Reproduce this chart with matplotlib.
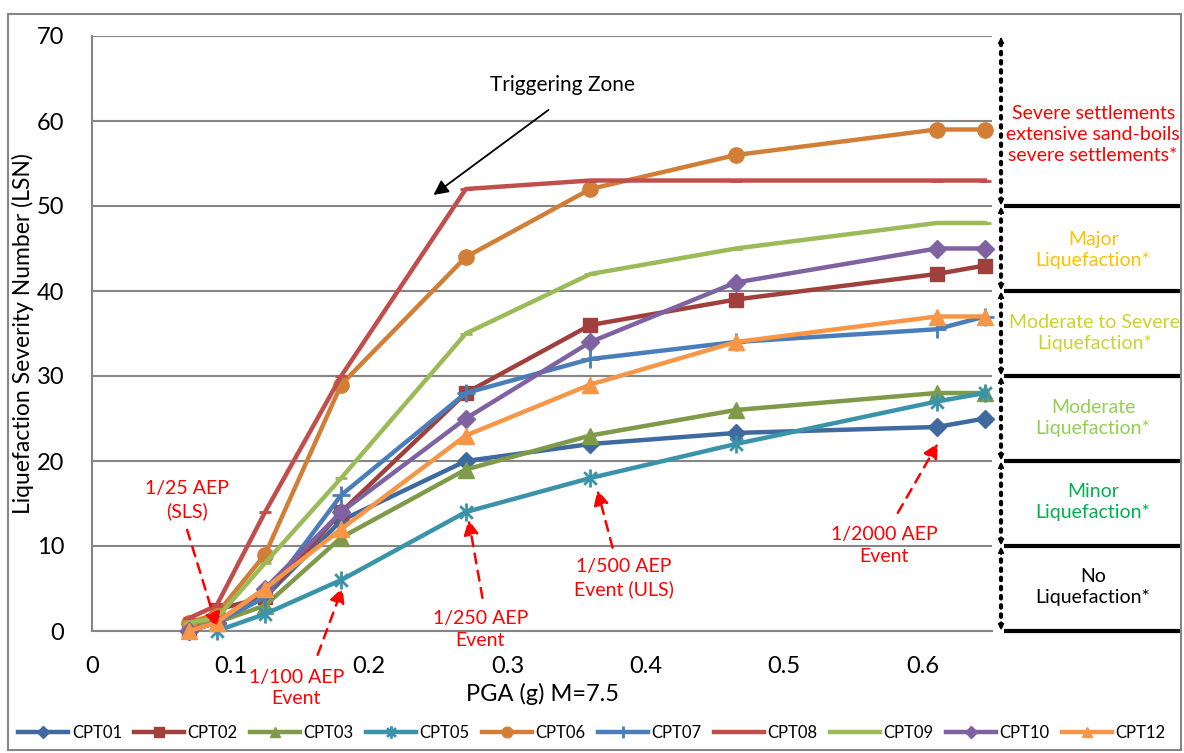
import numpy as np
import matplotlib
matplotlib.use("Agg")
import matplotlib.pyplot as plt
from matplotlib.patches import Rectangle
from matplotlib.path import Path

plt.rcParams['font.family'] = ['Lato', 'DejaVu Sans']

# ---------------- data ----------------
pga = [0.07, 0.09, 0.125, 0.18, 0.27, 0.36, 0.465, 0.61, 0.645]
cpt01 = [0, 1, 4, 13, 20, 22, 23.3, 24, 25]
cpt02 = [0, 2.5, 4, 14, 28, 36, 39, 42, 43]
cpt03 = [1, 1, 3, 11, 19, 23, 26, 28, 28]
cpt05 = [np.nan, 0, 2, 6, 14, 18, 22, 27, 28]
cpt06 = [1, 2, 9, 29, 44, 52, 56, 59, 59]
cpt07 = [0, 1, 4, 16, 28, 32, 34, 35.5, 37]
cpt08 = [1.5, 3, 14, 30, 52, 53, 53, 53, 53]
cpt09 = [1, 1.5, 8, 18, 35, 42, 45, 48, 48]
cpt10 = [0, 1, 5, 14, 25, 34, 41, 45, 45]
cpt12 = [0, 1, 5, 12, 23, 29, 34, 37, 37]

series_names = ["CPT01", "CPT02", "CPT03", "CPT05", "CPT06",
                "CPT07", "CPT08", "CPT09", "CPT10", "CPT12"]
series_values = [cpt01, cpt02, cpt03, cpt05, cpt06,
                 cpt07, cpt08, cpt09, cpt10, cpt12]
series_colors = ["#3F6AA0", "#A0403C", "#7F9A48", "#3A93A8", "#D27E36",
                 "#4A7EBB", "#C24E4B", "#9BBB59", "#7E62A1", "#F79646"]

# Excel-style "star" marker: an x plus a vertical stroke
star = Path([(0, -1), (0, 1), (-0.7, -0.7), (0.7, 0.7), (-0.7, 0.7), (0.7, -0.7)],
            [Path.MOVETO, Path.LINETO, Path.MOVETO, Path.LINETO, Path.MOVETO, Path.LINETO])
series_markers = ["D", "s", "^", star, "o", "+", "_", "_", "D", "^"]
series_msize = [9, 10, 11, 13, 11, 13, 9, 9, 9, 11]

x_ticks = [0, 0.1, 0.2, 0.3, 0.4, 0.5, 0.6]
x_tick_labels = ["0", "0.1", "0.2", "0.3", "0.4", "0.5", "0.6"]
y_ticks = [0, 10, 20, 30, 40, 50, 60, 70]

zone_levels = [0, 10, 20, 30, 40, 50, 70]
zone_labels = ["No\nLiquefaction*", "Minor\nLiquefaction*", "Moderate\nLiquefaction*",
               "Moderate to Severe\nLiquefaction*", "Major\nLiquefaction*",
               "Severe settlements\nextensive sand-boils\nsevere settlements*"]
zone_colors = ["black", "#00B050", "#92D050", "#CCD22E", "#FFC000", "#FF0000"]
zone_label_y = [5.2, 15.2, 25.1, 35.1, 44.8, 58.4]

event_labels = ["1/25 AEP\n(SLS)", "1/100 AEP\nEvent", "1/250 AEP\nEvent",
                "1/500 AEP\nEvent (ULS)", "1/2000 AEP\nEvent"]
event_text_xy = [(0.0687, 15.4), (0.1475, -6.7), (0.2805, 0.2), (0.384, 6.2), (0.572, 10.1)]
event_tail = [(0.0687, 11.9), (0.163, -2.8), (0.282, 3.9), (0.376, 9.8), (0.582, 13.9)]
event_head = [(0.0904, 0.4), (0.181, 5.1), (0.272, 13.1), (0.365, 16.6), (0.611, 22.1)]

# ---------------- figure ----------------
W, H = 1184, 753
fig = plt.figure(figsize=(W / 100, H / 100), dpi=100)
ax = fig.add_axes([92 / W, 1 - 631 / H, 900 / W, 595 / H])

for name, vals, c, m, ms in zip(series_names, series_values, series_colors,
                                series_markers, series_msize):
    mew = 1 if isinstance(m, str) and m in ("D", "s", "^", "o") else 2
    ax.plot(pga, vals, color=c, lw=3.2, marker=m, markersize=ms,
            markeredgecolor=c, markerfacecolor=c, markeredgewidth=mew,
            label=name, clip_on=False, zorder=3)

ax.set_xlim(0, 0.65)
ax.set_ylim(0, 70)
ax.set_xticks(x_ticks)
ax.set_xticklabels(x_tick_labels)
ax.set_yticks(y_ticks)
ax.tick_params(axis='both', length=0, labelsize=17)
ax.tick_params(axis='y', pad=20)
ax.tick_params(axis='x', pad=18)
ax.grid(axis='y', color='#868686', lw=1.5, zorder=0)
ax.set_axisbelow(True)
for s in ['top', 'right']:
    ax.spines[s].set_visible(False)
for s in ['left', 'bottom']:
    ax.spines[s].set_color('#868686')
    ax.spines[s].set_linewidth(1.5)

ax.set_xlabel("PGA (g) M=7.5", fontsize=17, labelpad=4)
ax.set_ylabel("Liquefaction Severity Number (LSN)", fontsize=16.5)
ax.yaxis.set_label_coords((34 - 92) / 900, 0.5)

# Triggering zone
ax.text(0.34, 64.2, "Triggering Zone", fontsize=15, ha='center', va='center')
ax.annotate("", xy=(0.2466, 51.3), xytext=(0.3297, 61.3),
            arrowprops=dict(arrowstyle='-|>', color='black', lw=1.3,
                            mutation_scale=22, shrinkA=0, shrinkB=0))

# Event arrows
for lab, txy, tail, head in zip(event_labels, event_text_xy, event_tail, event_head):
    ax.text(txy[0], txy[1], lab, color='#FF0000', fontsize=14, ha='center',
            va='center', linespacing=1.35, clip_on=False)
    ax.annotate("", xy=head, xytext=tail, annotation_clip=False,
                arrowprops=dict(arrowstyle='-|>', color='#FF0000', lw=1.8,
                                linestyle=(0, (4, 3)), mutation_scale=22,
                                shrinkA=0, shrinkB=0))

# Zone markers on right
xv = (1000 - 92) / 1383.0
xl0 = (1003 - 92) / 1383.0
xl1 = (1180 - 92) / 1383.0
for lev in zone_levels[:-1]:
    ax.plot([xl0, xl1], [lev, lev], color='black', lw=3, clip_on=False,
            solid_capstyle='butt', zorder=4)
for lo, hi in zip(zone_levels[:-1], zone_levels[1:]):
    ax.plot([xv, xv], [lo + 0.6, hi - 0.6], color='black', lw=3,
            linestyle=(0, (0.6, 1.6)), dash_capstyle='round', clip_on=False, zorder=4)
    ax.annotate("", xy=(xv, hi - 0.1), xytext=(xv, hi - 1.0), annotation_clip=False,
                arrowprops=dict(arrowstyle='->', color='black', lw=1.0,
                                mutation_scale=9, shrinkA=0, shrinkB=0))
    ax.annotate("", xy=(xv, lo + 0.1), xytext=(xv, lo + 1.0), annotation_clip=False,
                arrowprops=dict(arrowstyle='->', color='black', lw=1.0,
                                mutation_scale=9, shrinkA=0, shrinkB=0))

xc = (1092 - 92) / 1383.0
for lab, col, yy in zip(zone_labels, zone_colors, zone_label_y):
    if lab.startswith("Moderate to"):
        ax.text((1008 - 92) / 1383.0, yy, lab, color=col, fontsize=14, ha='left',
                va='center', multialignment='center', linespacing=1.3, clip_on=False)
    else:
        ax.text(xc, yy, lab, color=col, fontsize=14, ha='center', va='center',
                linespacing=1.3, clip_on=False)

# Outer border
fig.patches.append(Rectangle((8 / W, 1 - 750 / H), 1173 / W, 736 / H,
                             transform=fig.transFigure, fill=False,
                             edgecolor='#868686', lw=1.5))

# Legend
handles, labels = ax.get_legend_handles_labels()
leg = fig.legend(handles, labels, loc='center', bbox_to_anchor=(0.5, 1 - 733 / H),
                 ncol=10, frameon=False, fontsize=12, handlelength=3.0,
                 columnspacing=0.75, handletextpad=0.2, markerscale=0.7)

fig.savefig("out.png", dpi=100)
